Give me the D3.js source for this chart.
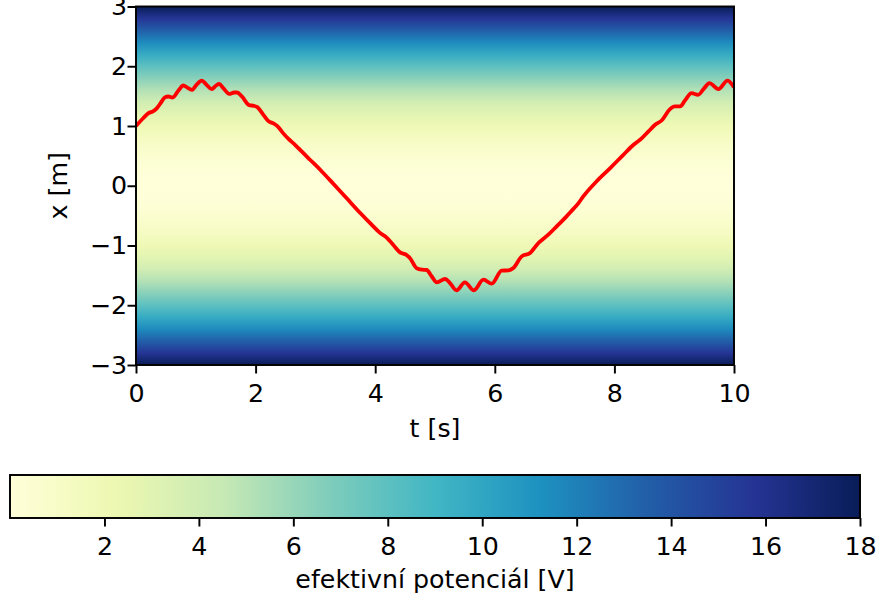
<!DOCTYPE html>
<html><head><meta charset="utf-8">
<script src="https://cdn.jsdelivr.net/npm/d3@7"></script>
<style>
html,body{margin:0;padding:0;background:#fff;}
text{font-family:"DejaVu Sans",sans-serif;}
</style></head>
<body><svg id="chart" width="881" height="603"></svg>
<script>
// trajectory x(t)
const tValues = [0.00,0.12,0.21,0.29,0.35,0.43,0.485,0.54,0.61,0.71,0.79,0.875,0.94,1.01,1.10,1.18,1.265,1.34,1.39,1.46,1.56,1.64,1.69,1.77,1.895,1.97,2.03,2.13,2.21,2.31,2.38,2.46,2.55,2.66,2.77,2.91,3.08,3.30,3.52,3.75,3.94,4.07,4.20,4.30,4.415,4.515,4.58,4.69,4.78,4.86,4.94,5.03,5.17,5.25,5.36,5.50,5.65,5.81,5.95,6.115,6.23,6.31,6.45,6.59,6.73,6.895,7.035,7.20,7.26,7.40,7.48,7.70,7.93,8.15,8.32,8.46,8.57,8.68,8.79,8.93,9.01,9.10,9.18,9.29,9.40,9.49,9.59,9.74,9.89,10.0];
const xValues = [1.00,1.13,1.215,1.25,1.30,1.41,1.483,1.494,1.477,1.594,1.678,1.633,1.605,1.689,1.761,1.689,1.617,1.678,1.706,1.633,1.538,1.561,1.561,1.494,1.349,1.338,1.316,1.187,1.087,1.037,0.981,0.881,0.783,0.686,0.574,0.435,0.268,0.033,-0.206,-0.457,-0.652,-0.780,-0.875,-0.987,-1.115,-1.154,-1.209,-1.377,-1.405,-1.410,-1.510,-1.617,-1.561,-1.628,-1.750,-1.617,-1.750,-1.572,-1.639,-1.421,-1.416,-1.377,-1.182,-1.126,-0.959,-0.819,-0.680,-0.513,-0.446,-0.290,-0.178,0.072,0.295,0.518,0.686,0.797,0.909,1.020,1.092,1.282,1.327,1.327,1.427,1.550,1.522,1.617,1.717,1.617,1.761,1.65];

// effective potential along x (background field)
const potentialX = [-3.0,-2.8,-2.6,-2.4,-2.2,-2.0,-1.8,-1.6,-1.4,-1.2,-1.0,-0.8,-0.6,-0.4,-0.2,0.0,0.2,0.4,0.6,0.8,1.0,1.2,1.4,1.6,1.8,2.0,2.2,2.4,2.6,2.8,3.0];
const potentialV = [18,15.68,13.52,11.52,9.68,8,6.48,5.12,3.92,2.88,2,1.28,0.72,0.32,0.08,0,0.08,0.32,0.72,1.28,2,2.88,3.92,5.12,6.48,8,9.68,11.52,13.52,15.68,18];

const tTicks = [0,2,4,6,8,10];
const xTicks = [-3,-2,-1,0,1,2,3];
const cbTicks = [2,4,6,8,10,12,14,16,18];
const cmapColors = ["#ffffd9","#edf8b1","#c7e9b4","#7fcdbb","#41b6c4","#1d91c0","#225ea8","#253494","#081d58"];

const FS = "25.3px", TL = 8.5, LW = 1.95;
const fmt = d => d < 0 ? "\u2212" + (-d) : String(d);
const svg = d3.select("#chart");
const P = {left:136, right:734, top:6.5, bottom:365};
const xs = d3.scaleLinear().domain([0,10]).range([P.left,P.right]);
const ys = d3.scaleLinear().domain([-3,3]).range([P.bottom,P.top]);
const cmap = d3.scaleLinear().domain(cmapColors.map((c,i)=>i/(cmapColors.length-1)*18)).range(cmapColors).interpolate(d3.interpolateRgb);

const defs = svg.append("defs");
const g1 = defs.append("linearGradient").attr("id","field").attr("gradientUnits","userSpaceOnUse")
  .attr("x1",0).attr("x2",0).attr("y1",ys(3)).attr("y2",ys(-3));
const order = d3.range(potentialX.length).sort((a,b)=>ys(potentialX[a])-ys(potentialX[b]));
order.forEach(i=>{
  g1.append("stop").attr("offset",(ys(potentialX[i])-ys(3))/(ys(-3)-ys(3))).attr("stop-color",cmap(potentialV[i]));
});
defs.append("clipPath").attr("id","clip").append("rect")
  .attr("x",P.left).attr("y",P.top).attr("width",P.right-P.left).attr("height",P.bottom-P.top);

svg.append("rect").attr("x",P.left).attr("y",P.top).attr("width",P.right-P.left).attr("height",P.bottom-P.top)
  .attr("fill","url(#field)");

const line = d3.line().x((d,i)=>xs(tValues[i])).y(d=>ys(d)).curve(d3.curveMonotoneX);
svg.append("path").attr("clip-path","url(#clip)").attr("d",line(xValues))
  .attr("fill","none").attr("stroke","#ff0000").attr("stroke-width",3.8).attr("stroke-linejoin","round");

svg.append("rect").attr("x",P.left).attr("y",P.top).attr("width",P.right-P.left).attr("height",P.bottom-P.top)
  .attr("fill","none").attr("stroke","#000").attr("stroke-width",LW);

function styleAxis(a){
  a.select(".domain").remove();
  a.selectAll(".tick line").attr("stroke","#000").attr("stroke-width",LW);
  a.selectAll(".tick text").attr("fill","#000").style("font-size",FS).style("font-family","DejaVu Sans");
}
const ax = svg.append("g").attr("transform",`translate(0,${P.bottom})`)
  .call(d3.axisBottom(xs).tickValues(tTicks).tickSize(TL).tickPadding(10.5).tickFormat(fmt));
const ay = svg.append("g").attr("transform",`translate(${P.left},0)`)
  .call(d3.axisLeft(ys).tickValues(xTicks).tickSize(TL).tickPadding(0.5).tickFormat(fmt));
styleAxis(ax); styleAxis(ay);

svg.append("text").attr("x",(P.left+P.right)/2).attr("y",437).attr("text-anchor","middle")
  .style("font-size",FS).text("t [s]");
svg.append("text").attr("transform",`translate(67,${(P.top+P.bottom)/2}) rotate(-90)`).attr("text-anchor","middle")
  .style("font-size",FS).text("x [m]");

// colorbar
const CB = {left:10, right:860, top:475, bottom:518};
const cbs = d3.scaleLinear().domain([0,18]).range([CB.left,CB.right]);
const g2 = defs.append("linearGradient").attr("id","cbar").attr("x1","0").attr("x2","1").attr("y1","0").attr("y2","0");
cmapColors.forEach((c,i)=>g2.append("stop").attr("offset",i/(cmapColors.length-1)).attr("stop-color",c));
svg.append("rect").attr("x",CB.left).attr("y",CB.top).attr("width",CB.right-CB.left).attr("height",CB.bottom-CB.top)
  .attr("fill","url(#cbar)").attr("stroke","#000").attr("stroke-width",LW);
const ac = svg.append("g").attr("transform",`translate(0,${CB.bottom})`)
  .call(d3.axisBottom(cbs).tickValues(cbTicks).tickSize(TL).tickPadding(10.5).tickFormat(fmt));
styleAxis(ac);
svg.append("text").attr("x",(CB.left+CB.right)/2).attr("y",588).attr("text-anchor","middle")
  .style("font-size",FS).text("efektivní potenciál [V]");
</script></body></html>
